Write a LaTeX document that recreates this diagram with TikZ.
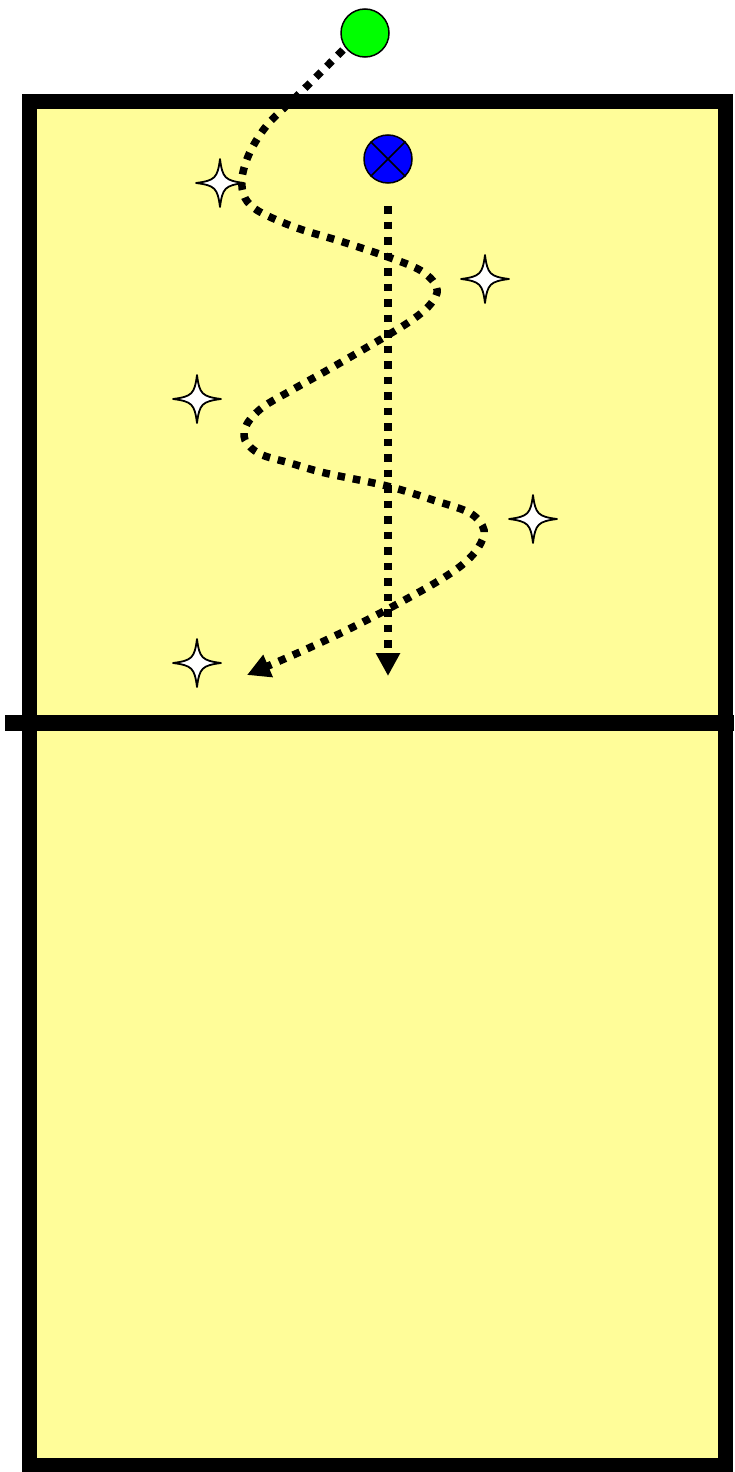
\documentclass[tikz,border=0pt]{standalone}
\usetikzlibrary{arrows.meta}
\definecolor{court}{HTML}{FFFD99}
\definecolor{ballgreen}{HTML}{00FF00}
\definecolor{playerblue}{HTML}{0000FF}
\tikzset{
  dotpath/.style={line width=7.5pt, dash pattern=on 7.5pt off 8pt, -{Triangle[length=23pt,width=23pt]}},
  player/.style={circle, draw=black, line width=1.5pt, minimum size=48pt, inner sep=0pt},
  starpic/.pic={\draw[fill=white, line width=1.8pt, line join=round]
     (24,0) .. controls (5,2.5) and (2.5,5) .. (0,24)
     .. controls (-2.5,5) and (-5,2.5) .. (-24,0)
     .. controls (-5,-2.5) and (-2.5,-5) .. (0,-24)
     .. controls (2.5,-5) and (5,-2.5) .. cycle;}
}
\begin{document}
\begin{tikzpicture}[x=1pt,y=-1pt]
\useasboundingbox (0,0) rectangle (734,1472);
% court
\fill[court] (29,101) rectangle (725,1465);
\draw[line width=15pt, line join=miter] (29,101) rectangle (725,1465);
\draw[line width=16pt] (5,723) -- (734,723);
% stars
\pic at (220,183) {starpic};
\pic at (485,279) {starpic};
\pic at (197,399) {starpic};
\pic at (533,519) {starpic};
\pic at (197,663) {starpic};
% players
\node[player, fill=ballgreen] (g) at (365,33) {};
\node[player, fill=playerblue] (b) at (388,159) {};
\draw[line width=1.5pt] (b.45) -- (b.225) (b.135) -- (b.315);
% vertical run
\coordinate (vs) at (388,206);
\coordinate (ve) at (388,676);
\draw[dotpath] (vs) -- (ve);
% zigzag run
\draw[dotpath] plot[smooth, tension=0.55] coordinates {
 (343,50) (300,93) (268,124) (250,152) (242,178) (245,198) (260,212) (297,228) (343,242) (388,257)
 (418,269) (433,281) (437,293) (428,307) (412,320) (388,335) (333,367) (292,390) (263,407)
 (247,424) (245,440) (260,454) (290,463) (325,473) (387,486) (433,500) (470,513) (484,530)
 (478,548) (462,565) (435,583) (388,609) (343,632) (300,652) (247,675)};
\end{tikzpicture}
\end{document}
